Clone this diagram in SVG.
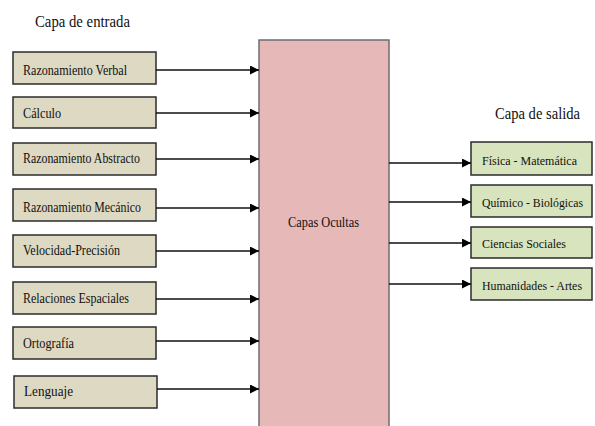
<svg xmlns="http://www.w3.org/2000/svg" width="595" height="426" viewBox="0 0 595 426">
  <style>
    text { font-family: "Liberation Serif", "Times New Roman", serif; fill: #111; }
    .lbl { font-size: 14px; }
    .lbl-o { font-size: 13px; }
    .head { font-size: 17px; }
    .in { fill: #ddd9c3; stroke: #2b2b2b; stroke-width: 1.5; }
    .out { fill: #d7e4bd; stroke: #2b2b2b; stroke-width: 1.5; }
    .hid { fill: #e6b8b7; stroke: #6e6e6e; stroke-width: 1.5; }
    .wire { stroke: #111; stroke-width: 1.3; fill: none; marker-end: url(#arrow); }
  </style>
  <defs>
    <marker id="arrow" viewBox="0 0 10 10" refX="10" refY="5" markerWidth="9" markerHeight="9" markerUnits="userSpaceOnUse" orient="auto">
      <path d="M0,0 L10,5 L0,10 z" fill="#000"/>
    </marker>
  </defs>
  <rect width="595" height="426" fill="#fff"/>

  <g font-family="Liberation Serif, serif">
    <text class="head" x="35" y="27" textLength="95" lengthAdjust="spacingAndGlyphs">Capa de entrada</text>
    <text class="head" x="495" y="119" textLength="85" lengthAdjust="spacingAndGlyphs">Capa de salida</text>
  </g>

  <!-- hidden layer block -->
  <g id="hidden" font-family="Liberation Serif, serif">
    <rect class="hid" x="259" y="40" width="130" height="400"/>
    <text class="lbl" x="288" y="227" textLength="71" lengthAdjust="spacingAndGlyphs">Capas Ocultas</text>
  </g>

  <!-- input layer -->
  <g font-family="Liberation Serif, serif">
    <g id="in1"><rect class="in" x="13" y="52" width="143" height="32"/><text class="lbl" x="23" y="75" textLength="104" lengthAdjust="spacingAndGlyphs">Razonamiento Verbal</text></g>
    <g id="in2"><rect class="in" x="13" y="97" width="143" height="31"/><text class="lbl" x="23" y="118" textLength="38" lengthAdjust="spacingAndGlyphs">Cálculo</text></g>
    <g id="in3"><rect class="in" x="13" y="143" width="143" height="32"/><text class="lbl" x="23" y="163" textLength="117" lengthAdjust="spacingAndGlyphs">Razonamiento Abstracto</text></g>
    <g id="in4"><rect class="in" x="13" y="189" width="143" height="32"/><text class="lbl" x="23" y="212" textLength="118" lengthAdjust="spacingAndGlyphs">Razonamiento Mecánico</text></g>
    <g id="in5"><rect class="in" x="13" y="235" width="143" height="32"/><text class="lbl" x="23" y="255" textLength="97" lengthAdjust="spacingAndGlyphs">Velocidad-Precisión</text></g>
    <g id="in6"><rect class="in" x="13" y="282" width="143" height="32"/><text class="lbl" x="23" y="303" textLength="106" lengthAdjust="spacingAndGlyphs">Relaciones Espaciales</text></g>
    <g id="in7"><rect class="in" x="13" y="327" width="143" height="32"/><text class="lbl" x="23" y="348" textLength="51" lengthAdjust="spacingAndGlyphs">Ortografía</text></g>
    <g id="in8"><rect class="in" x="14" y="376" width="143" height="32"/><text class="lbl" x="24" y="396" textLength="49" lengthAdjust="spacingAndGlyphs">Lenguaje</text></g>
  </g>

  <!-- output layer -->
  <g font-family="Liberation Serif, serif">
    <g id="out1"><rect class="out" x="471" y="142" width="121" height="33"/><text class="lbl-o" x="482" y="165" textLength="95" lengthAdjust="spacingAndGlyphs">Física - Matemática</text></g>
    <g id="out2"><rect class="out" x="471" y="185" width="121" height="32"/><text class="lbl-o" x="482" y="207" textLength="101" lengthAdjust="spacingAndGlyphs">Químico - Biológicas</text></g>
    <g id="out3"><rect class="out" x="471" y="227" width="121" height="31"/><text class="lbl-o" x="482" y="248" textLength="84" lengthAdjust="spacingAndGlyphs">Ciencias Sociales</text></g>
    <g id="out4"><rect class="out" x="471" y="268" width="121" height="32"/><text class="lbl-o" x="482" y="290" textLength="100" lengthAdjust="spacingAndGlyphs">Humanidades - Artes</text></g>
  </g>

  <!-- connectors -->
  <g id="connectors">
    <line class="wire" x1="156" y1="70" x2="259" y2="70"/>
    <line class="wire" x1="156" y1="113" x2="259" y2="113"/>
    <line class="wire" x1="156" y1="159" x2="259" y2="159"/>
    <line class="wire" x1="156" y1="208" x2="259" y2="208"/>
    <line class="wire" x1="156" y1="251" x2="259" y2="251"/>
    <line class="wire" x1="156" y1="299" x2="259" y2="299"/>
    <line class="wire" x1="156" y1="341" x2="259" y2="341"/>
    <line class="wire" x1="157" y1="389" x2="259" y2="389"/>
    <line class="wire" x1="389" y1="163" x2="471" y2="163"/>
    <line class="wire" x1="389" y1="202" x2="471" y2="202"/>
    <line class="wire" x1="389" y1="243" x2="471" y2="243"/>
    <line class="wire" x1="389" y1="284" x2="471" y2="284"/>
  </g>
</svg>
